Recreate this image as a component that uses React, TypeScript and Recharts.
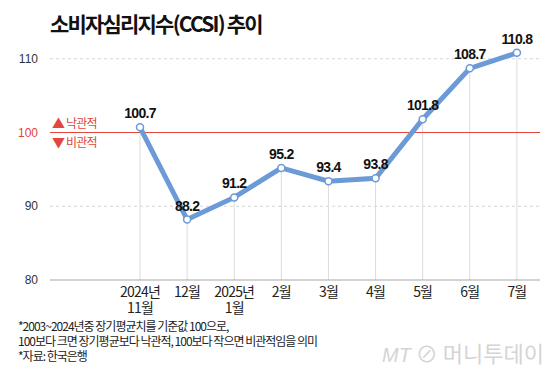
import React from 'react';
import { ComposedChart, Line, XAxis, YAxis, ReferenceLine, LabelList } from 'recharts';

const months = ['2024년|11월', '12월', '2025년|1월', '2월', '3월', '4월', '5월', '6월', '7월'];
const ccsi = [100.7, 88.2, 91.2, 95.2, 93.4, 93.8, 101.8, 108.7, 110.8];
const yTicks = [80, 90, 100, 110];
const gridLevels = [90, 110];
const baseline = 100;
const axisMin = 80;
const title = '소비자심리지수(CCSI) 추이';
const upLabel = '낙관적';
const downLabel = '비관적';
const notes = [
  '*2003~2024년중 장기평균치를 기준값 100으로,',
  '100보다 크면 장기평균보다 낙관적, 100보다 작으면 비관적임을 의미',
  '*자료: 한국은행',
];

const data = months.map((m, i) => ({ x: i, month: m, ccsi: ccsi[i] }));

const RED = '#e2463c';
const BLUE = '#6b9ad6';
const KFONT = '"Noto Sans CJK KR", "Liberation Sans", sans-serif';
const NFONT = '"Liberation Sans", Arial, sans-serif';

const XTick = (props: any) => {
  const { x, y, payload } = props;
  const lines = months[payload.value].split('|');
  return (
    <g>
      {lines.map((l: string, i: number) => (
        <text key={i} x={x} y={y + 17 + i * 16} textAnchor="middle" fontSize={14} fill="#222" fontFamily={KFONT} letterSpacing={-0.8}>
          {l}
        </text>
      ))}
    </g>
  );
};

const YTick = (props: any) => {
  const { x, y, payload } = props;
  return (
    <text x={x} y={y + 4} textAnchor="end" fontSize={12} fill={payload.value === baseline ? RED : '#333'} fontFamily={NFONT}>
      {payload.value}
    </text>
  );
};

const Dot = (props: any) => {
  const { cx, cy } = props;
  return <circle cx={cx} cy={cy} r={3.5} fill="#fff" stroke={BLUE} strokeWidth={1.5} />;
};

const ValueLabel = (props: any) => {
  const { x, y, value } = props;
  return (
    <text x={x} y={y - 9} textAnchor="middle" fontSize={14} fontWeight="bold" fill="#111" fontFamily={NFONT} letterSpacing={-0.7}>
      {value}
    </text>
  );
};

export default function App() {
  return (
    <div style={{ position: 'absolute', left: 0, top: 0, width: 560, height: 380, background: '#fff', overflow: 'hidden' }}>
      <ComposedChart width={560} height={380} data={data} margin={{ top: 44, right: 20, bottom: 70, left: 8 }}>
        <XAxis
          dataKey="x"
          type="number"
          domain={[-1.91, 8.49]}
          ticks={data.map((d) => d.x)}
          tick={<XTick />}
          tickLine={false}
          tickSize={0}
          tickMargin={0}
          height={30}
          axisLine={{ stroke: '#a8a8a8', strokeWidth: 1.2 }}
          interval={0}
        />
        <YAxis
          type="number"
          domain={[80, 112]}
          ticks={yTicks}
          tick={<YTick />}
          axisLine={false}
          tickLine={false}
          tickSize={0}
          tickMargin={12}
          width={42}
          interval={0}
        />
        {gridLevels.map((g) => (
          <ReferenceLine key={g} y={g} stroke="#d6d6d6" strokeDasharray="3 3" />
        ))}
        {data.map((d) => (
          <ReferenceLine
            key={'v' + d.x}
            segment={[{ x: d.x, y: axisMin }, { x: d.x, y: d.ccsi }]}
            stroke="#dcdcdc"
            strokeWidth={1}
          />
        ))}
        <ReferenceLine y={baseline} stroke={RED} strokeWidth={1.2} />
        <Line
          dataKey="ccsi"
          stroke={BLUE}
          strokeWidth={5}
          dot={<Dot />}
          activeDot={false}
          isAnimationActive={false}
        >
          <LabelList dataKey="ccsi" content={<ValueLabel />} />
        </Line>
      </ComposedChart>

      <div style={{ position: 'absolute', left: 50, top: 8, fontFamily: KFONT, fontWeight: 'bold', fontSize: 21, letterSpacing: -1.8, color: '#111', whiteSpace: 'nowrap', lineHeight: '30px' }}>
        {title}
      </div>

      <div style={{ position: 'absolute', left: 52, top: 114, fontFamily: KFONT, fontSize: 12, color: RED, whiteSpace: 'nowrap', lineHeight: '18px', letterSpacing: -0.8 }}>
        <span style={{ fontSize: 13 }}>▲</span> {upLabel}
      </div>
      <div style={{ position: 'absolute', left: 52, top: 133, fontFamily: KFONT, fontSize: 12, color: RED, whiteSpace: 'nowrap', lineHeight: '18px', letterSpacing: -0.8 }}>
        <span style={{ fontSize: 13 }}>▼</span> {downLabel}
      </div>

      <div style={{ position: 'absolute', left: 18, top: 318, fontFamily: KFONT, fontSize: 12, color: '#222', lineHeight: '15px', letterSpacing: -1, whiteSpace: 'nowrap' }}>
        {notes.map((n, i) => (
          <div key={i}>{n}</div>
        ))}
      </div>

      <div style={{ position: 'absolute', left: 382, top: 338, fontFamily: KFONT, fontSize: 22, color: '#d4d4d4', whiteSpace: 'nowrap', lineHeight: '28px' }}>
        <span style={{ fontStyle: 'italic', fontFamily: NFONT, fontSize: 20 }}>MT</span> ⊘ 머니투데이
      </div>
    </div>
  );
}
